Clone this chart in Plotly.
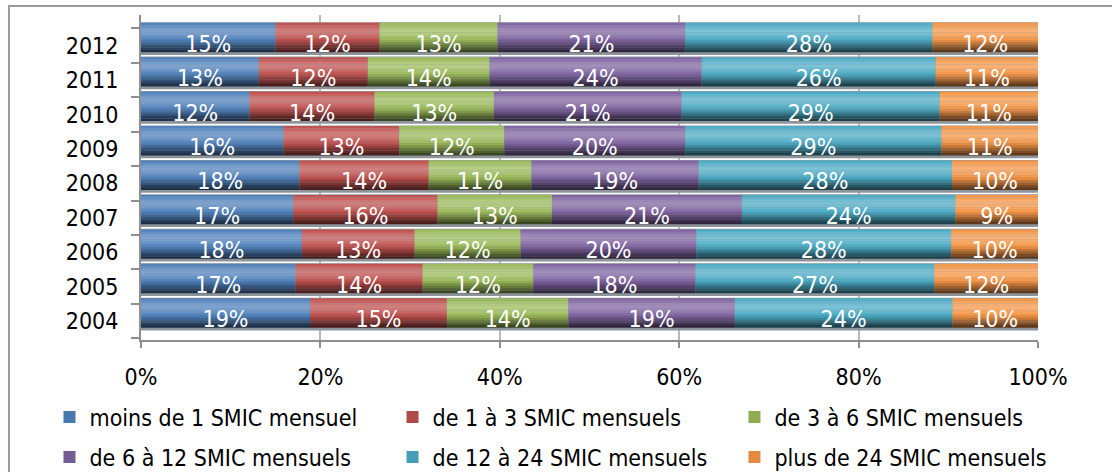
import plotly.graph_objects as go

years = ["2004", "2005", "2006", "2007", "2008", "2009", "2010", "2011", "2012"]
series_names = [
    "moins de 1 SMIC mensuel",
    "de 1 à 3 SMIC mensuels",
    "de 3 à 6 SMIC mensuels",
    "de 6 à 12 SMIC mensuels",
    "de 12 à 24 SMIC mensuels",
    "plus de 24 SMIC mensuels",
]
# shares (%) per year, order 2004..2012
moins_1 = [18.85, 17.23, 17.93, 16.97, 17.67, 15.89, 12.10, 13.14, 15.00]
de_1_3 = [15.25, 14.16, 12.57, 16.09, 14.40, 12.90, 13.94, 12.15, 11.60]
de_3_6 = [13.55, 12.34, 11.82, 12.75, 11.47, 11.71, 13.30, 13.57, 13.15]
de_6_12 = [18.55, 18.10, 19.60, 21.18, 18.63, 20.18, 20.93, 23.64, 20.93]
de_12_24 = [24.25, 26.60, 28.40, 23.80, 28.24, 28.55, 28.77, 26.10, 27.55]
plus_24 = [9.55, 11.57, 9.68, 9.21, 9.59, 10.77, 10.96, 11.40, 11.77]
x_ticks = [0, 20, 40, 60, 80, 100]
x_tick_labels = ["0%", "20%", "40%", "60%", "80%", "100%"]

series_values = [moins_1, de_1_3, de_3_6, de_6_12, de_12_24, plus_24]
base_colors = ["#4F81BD", "#C0504D", "#9BBB59", "#8064A2", "#4BACC6", "#F79646"]
legend_ids = ["legend", "legend2", "legend3", "legend", "legend2", "legend3"]

FONT = "DejaVu Sans Condensed"

def hex_rgb(h):
    h = h.lstrip("#")
    return [int(h[i:i + 2], 16) for i in (0, 2, 4)]

def shade(h, t):
    r = hex_rgb(h)
    if t >= 0:
        r = [c + (255 - c) * t for c in r]
    else:
        r = [c * (1 + t) for c in r]
    return "rgb(%d,%d,%d)" % tuple(int(round(c)) for c in r)

# gradient profile from top to bottom of each bar
profile = [0.02, 0.12, 0.22, 0.26, 0.22, 0.14, 0.04, -0.08, -0.22, -0.36, -0.50, -0.62]
LEGEND_BAND = 7
BAR_W = 0.85
BAR_OFF = -0.19
band_h = BAR_W / len(profile)

fig = go.Figure()

# shadow
fig.add_trace(go.Bar(
    y=years, x=[sum(v[i] for v in series_values) for i in range(len(years))],
    orientation="h", base=0, width=BAR_W + 0.1, offset=BAR_OFF - 0.08,
    marker=dict(color="#8d959b", line=dict(width=0)),
    showlegend=False, hoverinfo="skip",
))

starts = []
acc = [0.0] * len(years)
for vals in series_values:
    starts.append(list(acc))
    acc = [a + v for a, v in zip(acc, vals)]

for s, vals in enumerate(series_values):
    for b, t in enumerate(profile):
        off = BAR_OFF + BAR_W - (b + 1) * band_h
        fig.add_trace(go.Bar(
            y=years, x=vals, base=starts[s], orientation="h",
            width=band_h * 1.04, offset=off,
            marker=dict(color=shade(base_colors[s], t), line=dict(width=0)),
            name=series_names[s],
            showlegend=(b == LEGEND_BAND),
            legend=legend_ids[s],
            legendgroup=series_names[s],
            legendrank=s,
            hoverinfo="skip",
        ))

for s, vals in enumerate(series_values):
    fig.add_trace(go.Bar(
        y=years, x=vals, base=starts[s], orientation="h",
        width=BAR_W, offset=-0.37,
        marker=dict(color="rgba(0,0,0,0)", line=dict(width=0)),
        text=["%d%%" % round(v) for v in vals], texttemplate="%{text}",
        textposition="inside", insidetextanchor="middle",
        textfont=dict(family=FONT, size=23, color="white"),
        showlegend=False, hoverinfo="skip",
    ))

legend_common = dict(
    orientation="v", xref="container", yref="container",
    xanchor="left", yanchor="top", bgcolor="rgba(0,0,0,0)",
    font=dict(family=FONT, size=23, color="black"),
    tracegroupgap=7, itemclick=False, itemdoubleclick=False,
)

fig.update_layout(
    width=1112, height=472,
    margin=dict(l=141, r=74, t=15, b=132, autoexpand=False),
    barmode="overlay",
    paper_bgcolor="white", plot_bgcolor="white",
    font=dict(family=FONT, size=23, color="black"),
    uniformtext=dict(minsize=23, mode="show"),
    hovermode=False,
    xaxis=dict(
        range=[0, 100], tickmode="array", tickvals=x_ticks, ticktext=x_tick_labels,
        showgrid=True, gridcolor="#bababa", gridwidth=1.5,
        showline=True, linecolor="#8e8e8e", linewidth=2,
        ticks="outside", ticklen=6, tickwidth=2, tickcolor="#8e8e8e",
        ticklabelstandoff=9,
        zeroline=False, fixedrange=True,
        tickfont=dict(family=FONT, size=23),
    ),
    yaxis=dict(
        type="category", categoryorder="array", categoryarray=years,
        range=[-0.549, 8.888], tickson="boundaries",
        showgrid=False, showline=True, linecolor="#8e8e8e", linewidth=2,
        ticks="outside", ticklen=8, tickwidth=2, tickcolor="#8e8e8e",
        ticklabelstandoff=16,
        zeroline=False, fixedrange=True,
        tickfont=dict(family=FONT, size=23),
    ),
    legend=dict(legend_common, x=0.0445, y=0.162),
    legend2=dict(legend_common, x=0.353, y=0.162),
    legend3=dict(legend_common, x=0.6605, y=0.162),
    shapes=[dict(
        type="rect", xref="paper", yref="paper",
        x0=-0.1472, x1=1.2, y0=-0.6, y1=1.0277,
        line=dict(color="#9a9a9a", width=2), fillcolor="rgba(0,0,0,0)",
        layer="below",
    )],
)

fig.write_html(
    "out.html",
    config={"displayModeBar": False, "staticPlot": False},
    post_script="document.body.style.margin='0px';",
)
